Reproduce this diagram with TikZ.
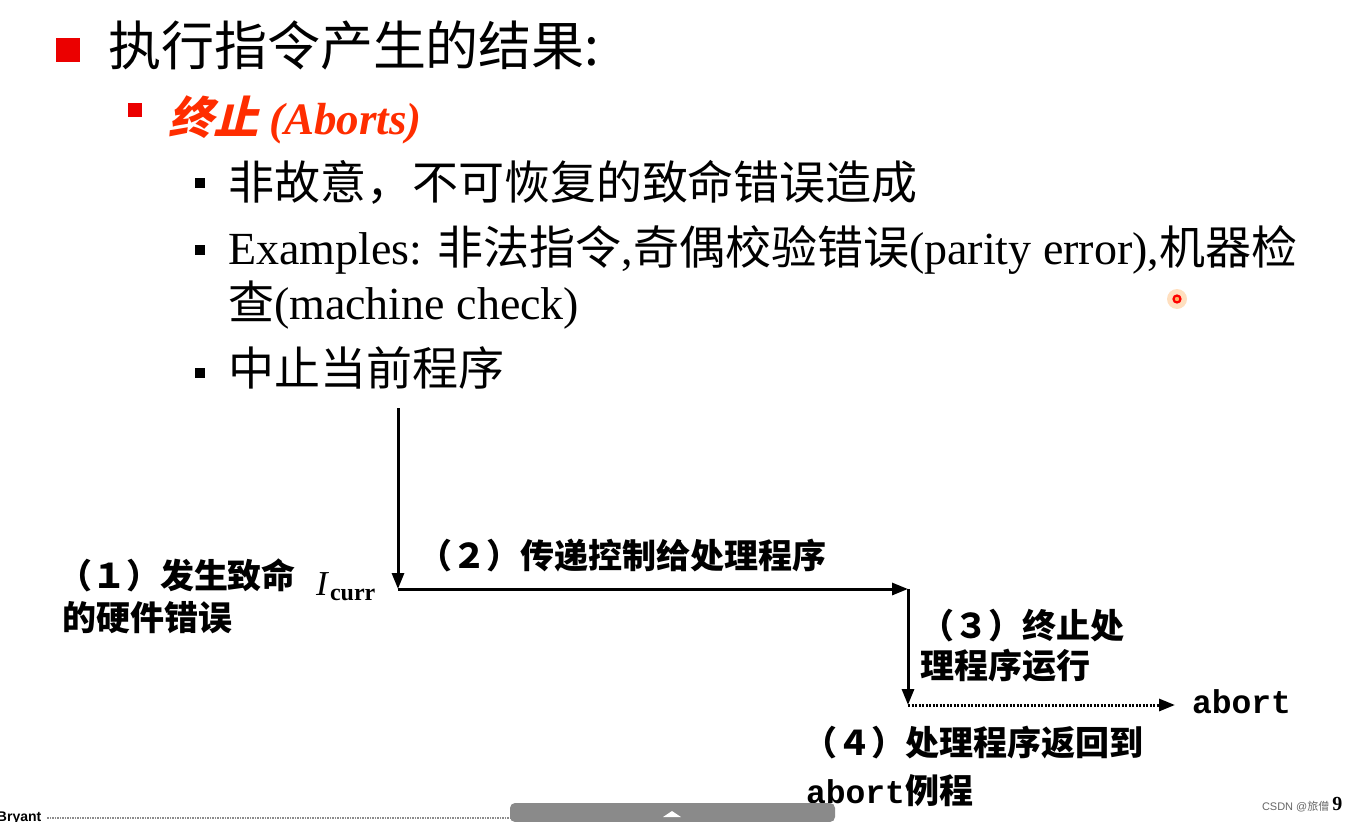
\documentclass[tikz,border=0pt]{standalone}
\usepackage{fontspec}
\setmainfont{Liberation Serif}
\setsansfont{Liberation Sans}
\setmonofont{Liberation Mono}
\newfontfamily\cjk{Noto Sans CJK SC}
\newfontfamily\cjkit{Noto Sans CJK SC}[FakeSlant=0.25]
\usetikzlibrary{arrows.meta,positioning}
\definecolor{PptRed}{RGB}{235,0,0}
\definecolor{AbortRed}{RGB}{255,45,0}
\definecolor{BarGray}{RGB}{138,138,138}

\begin{document}
\begin{tikzpicture}[
     x = 1pt, y = -1pt,
     Txt/.style={inner sep=0pt, outer sep=0pt, anchor=base west},
     LvlOne/.style={Txt, font=\fontsize{53}{60}\selectfont\cjk},
     LvlTwo/.style={Txt, text=AbortRed, font=\fontsize{45}{50}\selectfont},
     LvlThree/.style={Txt, font=\fontsize{46}{52}\selectfont},
     Label/.style={Txt, font=\fontsize{34}{40}\selectfont\cjk\bfseries},
     Mono/.style={Txt, font=\fontsize{33}{36}\selectfont\ttfamily\bfseries},
     Sq/.style={rectangle, inner sep=0pt, minimum size=#1},
     Flow/.style={line width=3pt, -{Triangle[length=16pt, width=12pt]}},
  ]
\useasboundingbox (0,0) rectangle (1345,822);
% bullets and text
\node [Sq=24pt, fill=PptRed] (b1) at (68,50) {};
\node [LvlOne] (title) at (108,65) {执行指令产生的结果:};
\node [Sq=14pt, fill=PptRed] (b2) at (135,110) {};
\node [LvlTwo] (aborts) at (168,134) {{\cjkit\bfseries 终止} {\bfseries\itshape (Aborts)}};
\node [Sq=10pt, fill=black] (b3) at (200,183) {};
\node [LvlThree] (t1) at (228,199) {\cjk 非故意，不可恢复的致命错误造成};
\node [Sq=10pt, fill=black] (b4) at (200,250) {};
\node [LvlThree] (t2) at (228,264) {Examples: {\cjk 非法指令},{\cjk 奇偶校验错误}(parity error),{\cjk 机器检}};
\node [LvlThree] (t3) at (228,319) {{\cjk 查}(machine check)};
\node [Sq=10pt, fill=black] (b5) at (200,373) {};
\node [LvlThree] (t4) at (228,385) {\cjk 中止当前程序};

% flow
\coordinate (top) at (398,408);
\coordinate (icurr) at (398,589);
\coordinate (handler) at (908,589);
\coordinate (stop) at (908,705);
\node [Mono] (abortpt) at (1192,713) {abort};
\draw[Flow] (top) -- (icurr);
\draw[Flow] (icurr) -- (handler);
\draw[Flow] (handler) -- (stop);
\draw[Flow, dash pattern=on 2pt off 1.5pt, shorten >=17pt] (stop) -- (stop -| abortpt.west);

\node [Txt, font=\fontsize{35}{40}\selectfont] (ilbl) at (316,595)
   {\textit{I}\kern1pt\raisebox{-5pt}{\fontsize{24}{24}\selectfont\bfseries curr}};
\node [Label] (l1a) at (58,588) {（１）发生致命};
\node [Label] (l1b) at (62,630) {的硬件错误};
\node [Label] (l2) at (418,568) {（２）传递控制给处理程序};
\node [Label] (l3a) at (920,638) {（３）终止处};
\node [Label] (l3b) at (920,678) {理程序运行};
\node [Label] (l4a) at (803,755) {（４）处理程序返回到};
\node [Label] (l4b) at (806,803) {{\ttfamily\bfseries\fontsize{33}{36}\selectfont abort}例程};

% footer
\node [Txt, font=\fontsize{14}{16}\selectfont\sffamily\bfseries] (bryant) at (-3,821) {Bryant};
\draw[black!45, line width=2pt, dash pattern=on 1.5pt off 1pt] (bryant.base east) ++(6,-3) coordinate (dl) -- (660,818);
\fill[BarGray, rounded corners=5pt] (510,822) |- (835,803) -- (835,822) -- cycle;
\fill[white] (663,817) -- (672,811) -- (681,817) -- cycle;
\node [Txt, text=black!60, font=\fontsize{11}{12}\selectfont\sffamily] (csdn) at (1262,810) {CSDN @{\cjk 旅僧}};
\node [Txt, font=\fontsize{20}{20}\selectfont\bfseries, right=3pt of csdn.base east, anchor=base west] (pg) {9};
% pointer
\fill[orange!25] (1177,299) circle (10pt);
\draw[red, fill=orange!60, line width=2.2pt] (1177,299) circle (3.5pt);
\end{tikzpicture}
\end{document}
